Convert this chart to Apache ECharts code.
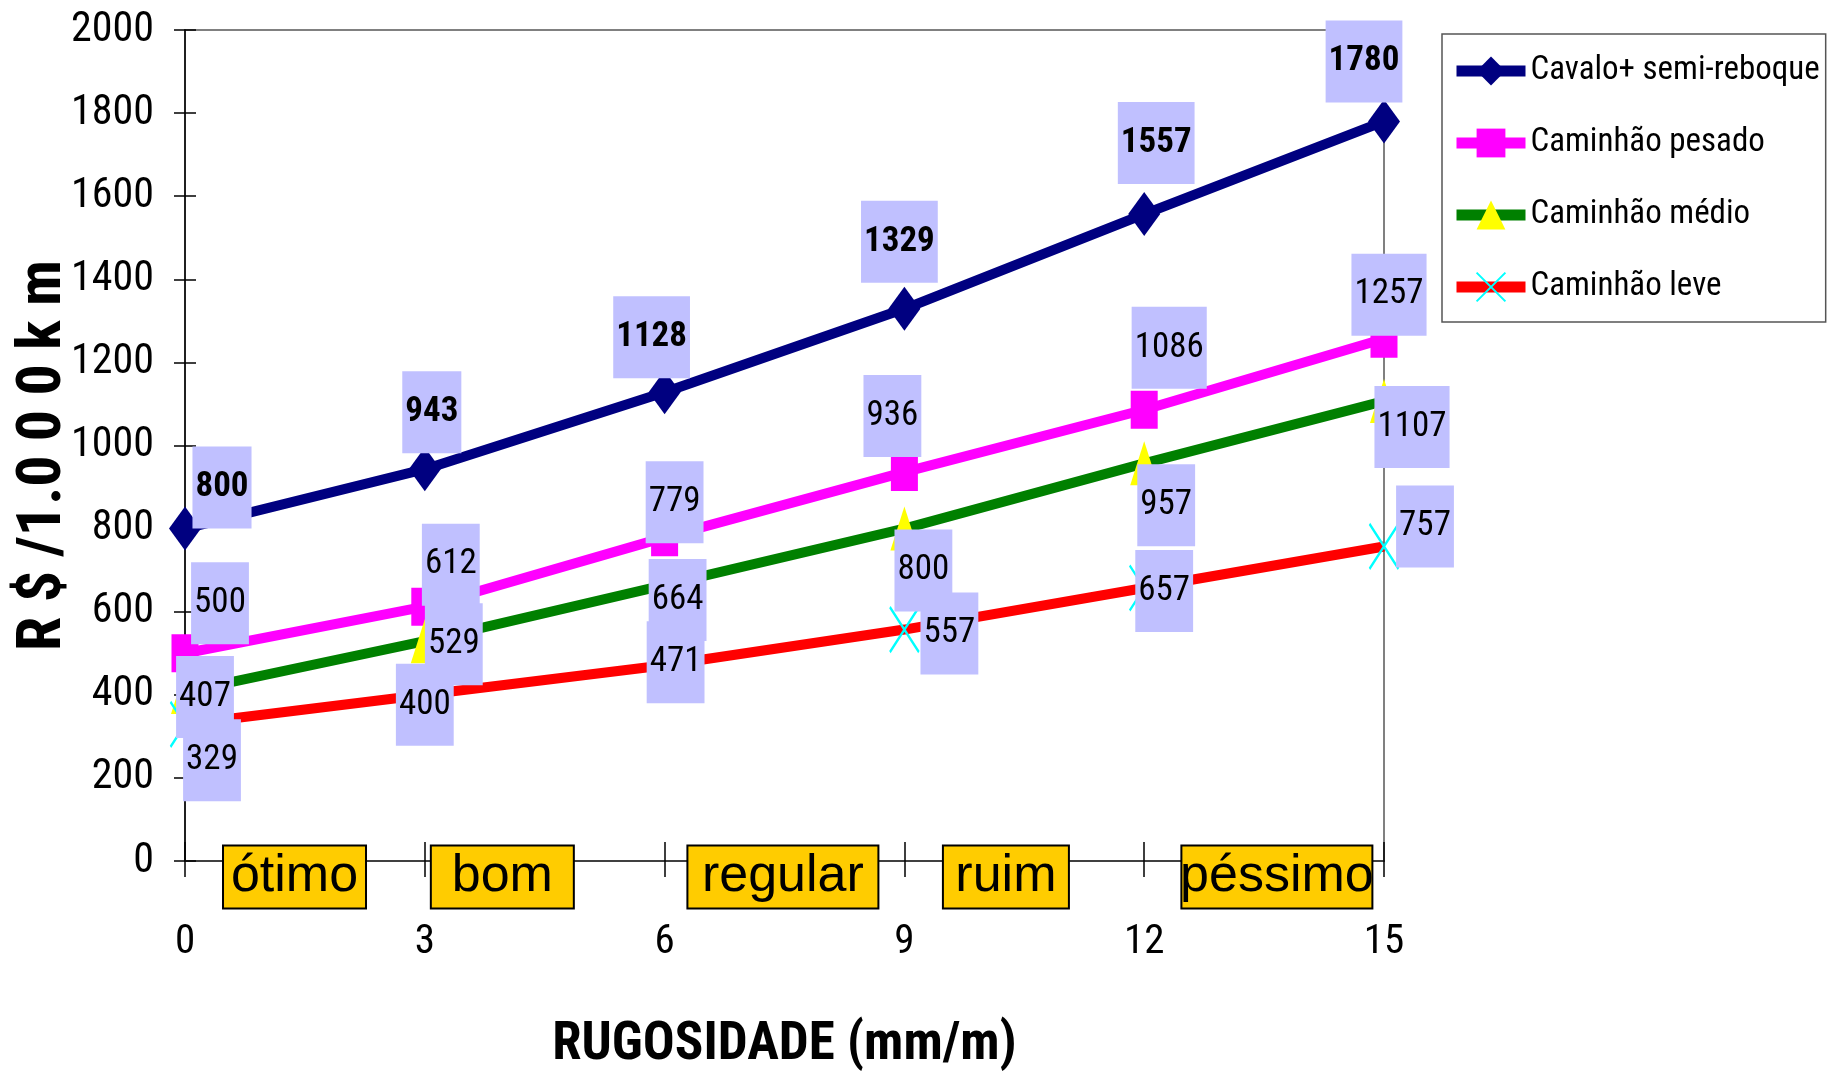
<!DOCTYPE html>
<html><head><meta charset="utf-8">
<script src="https://cdn.jsdelivr.net/npm/echarts@6/dist/echarts.min.js"></script>
<style>html,body{margin:0;padding:0;background:#fff}#c{width:1842px;height:1075px}</style>
</head><body><div id="c"></div><script>
// ---- data ----
const roughness = [0, 3, 6, 9, 12, 15];
const cavalo = [800, 943, 1128, 1329, 1557, 1780];
const pesado = [500, 612, 779, 936, 1086, 1257];
const medio  = [407, 529, 664, 800, 957, 1107];
const leve   = [329, 400, 471, 557, 657, 757];
const seriesNames = ['Cavalo+ semi-reboque', 'Caminhão pesado', 'Caminhão médio', 'Caminhão leve'];
const ratingLabels = ['ótimo', 'bom', 'regular', 'ruim', 'péssimo'];
const ratingX = [1.37, 3.97, 7.48, 10.27, 13.66];
const yTitle = 'R $ /1.0 0 0 k m';
const xTitle = 'RUGOSIDADE (mm/m)';

// ---- styles (label offsets in px, box widths) ----
const labelOffsets = [
  [[37,-41],[7,-57],[-13,-55],[-5,-67],[12,-71],[-20,-60]],
  [[35,-50],[26,-42],[10,-35],[-12,-56],[25,-62],[5,-44]],
  [[20,5],[29,3],[13,15],[19,42],[22,42],[28,26]],
  [[27,36],[0,10],[11,-3],[45,4],[20,3],[41,-20]]
];
const ratingWidths = [145, 145, 193, 128, 193];
const COND = 'Roboto';
const NORMAL_C = 'normal condensed';
const BOLD_C = 'bold condensed';
const SANS = "'Liberation Sans',Arial,sans-serif";

const lineColors = ['#000080', '#FF00FF', '#008000', '#FF0000'];
const markerColors = ['#000080', '#FF00FF', '#FFFF00', '#00FFFF'];
const symbols = ['diamond', 'rect', 'triangle', 'path://M0,0L10,10M10,0L0,10'];
const symbolSizes = [[32,44],[27,38],[28,44],[29,45]];
const allValues = [cavalo, pesado, medio, leve];

const chart = echarts.init(document.getElementById('c'));

const lineSeries = allValues.map((vals, s) => ({
  name: seriesNames[s],
  type: 'line',
  data: vals.map((v, i) => ({ value: [roughness[i], v], label: { offset: labelOffsets[s][i] } })),
  symbol: symbols[s],
  symbolSize: symbolSizes[s],
  lineStyle: { color: lineColors[s], width: 10 },
  itemStyle: s === 3
    ? { color: markerColors[s], borderColor: markerColors[s], borderWidth: 2.5 }
    : { color: markerColors[s] },
  z: 2,
  label: {
    show: true,
    position: 'inside',
    formatter: p => String(p.value[1]),
    color: '#000',
    fontFamily: COND,
    fontSize: 35,
    fontWeight: s === 0 ? BOLD_C : NORMAL_C,
    lineHeight: 40,
    backgroundColor: '#C0C0FF',
    padding: [21, 3]
  },
  emphasis: { disabled: true },
  animation: false
}));

const ratingSeries = {
  type: 'scatter',
  silent: true,
  symbolSize: 1,
  itemStyle: { color: 'transparent', opacity: 1 },
  z: 10,
  data: ratingLabels.map((t, i) => ({
    value: [ratingX[i], 0],
    name: t,
    label: { width: ratingWidths[i] - 4 }
  })),
  label: {
    show: true,
    position: 'inside',
    offset: [0, 16],
    formatter: p => p.name,
    fontFamily: SANS,
    fontSize: 52,
    color: '#000',
    opacity: 1,
    backgroundColor: '#FFCC00',
    borderColor: '#000',
    borderWidth: 2,
    height: 61,
    lineHeight: 61,
    align: 'center',
    verticalAlign: 'middle',
    padding: 0
  },
  emphasis: { disabled: true },
  animation: false
};

chart.setOption({
  backgroundColor: '#fff',
  animation: false,
  grid: { left: 185, right: 458, top: 30, bottom: 214, containLabel: false, outerBoundsMode: 'none',
          show: true, borderColor: '#808080', borderWidth: 2 },
  legend: {
    data: seriesNames,
    orient: 'vertical',
    left: 1442,
    top: 34,
    padding: [19, 6, 17, 9],
    itemGap: 36,
    itemWidth: 69,
    itemHeight: 36,
    borderColor: '#555',
    borderWidth: 1.5,
    backgroundColor: '#fff',
    lineStyle: { width: 11 },
    textStyle: { fontFamily: COND, fontWeight: NORMAL_C, fontSize: 33, color: '#000', lineHeight: 36 }
  },
  xAxis: [{
    type: 'value', min: 0, max: 15, interval: 3,
    name: xTitle, nameLocation: 'middle', nameGap: 158, nameMoveOverlap: false,
    nameTextStyle: { fontFamily: COND, fontWeight: BOLD_C, fontSize: 53, color: '#000' },
    axisLine: { onZero: false, lineStyle: { color: '#404040', width: 2 } },
    axisTick: { show: true, length: 16, lineStyle: { color: '#000', width: 1.5 } },
    axisLabel: { margin: 61, fontFamily: COND, fontWeight: NORMAL_C, fontSize: 41, color: '#000',
                 formatter: v => String(v) },
    splitLine: { show: false }
  }, {
    type: 'value', min: 0, max: 15, interval: 3, position: 'bottom',
    axisLine: { show: false },
    axisTick: { show: true, inside: true, length: 19, lineStyle: { color: '#000', width: 1.5 } },
    axisLabel: { show: false },
    splitLine: { show: false }
  }],
  yAxis: [{
    type: 'value', min: 0, max: 2000, interval: 200,
    name: yTitle, nameLocation: 'middle', nameGap: 110, nameRotate: 90, nameMoveOverlap: false,
    nameTextStyle: { fontFamily: COND, fontWeight: BOLD_C, fontSize: 62, color: '#000', padding: [0, 20, 0, 0] },
    axisLine: { show: true, onZero: false, lineStyle: { color: '#000', width: 1.5 } },
    axisTick: { show: true, length: 11, lineStyle: { color: '#000', width: 1.5 } },
    axisLabel: { margin: 31, fontFamily: COND, fontWeight: NORMAL_C, fontSize: 42, color: '#000',
                 formatter: v => String(v) },
    splitLine: { show: false }
  }, {
    type: 'value', min: 0, max: 2000, interval: 200, position: 'left',
    axisLine: { show: false },
    axisTick: { show: true, inside: true, length: 11, lineStyle: { color: '#000', width: 1.5 } },
    axisLabel: { show: false },
    splitLine: { show: false }
  }],
  series: lineSeries.concat([ratingSeries])
});
</script></body></html>
